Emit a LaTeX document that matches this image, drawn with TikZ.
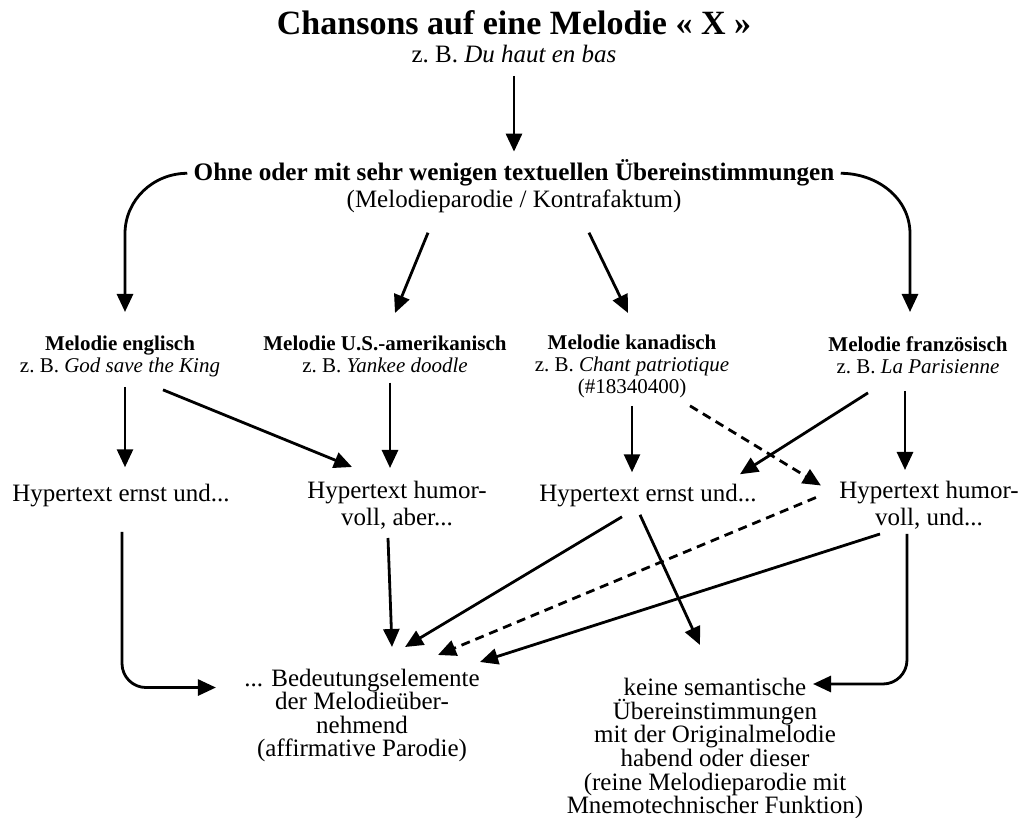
\documentclass[tikz,border=0pt]{standalone}
\usepackage{fontspec}
\setmainfont{Liberation Serif}
\usetikzlibrary{arrows.meta}
\begin{document}
\begin{tikzpicture}[x=0.5pt,y=0.5pt,
    every node/.style={inner sep=0pt,align=center},
    pfeil/.style={line width=1.4pt,-{Triangle[length=9pt,width=8pt]}},
    strich/.style={pfeil,dash pattern=on 4.5pt off 3pt},
    melodie/.style={anchor=north,font=\fontsize{10.5}{11}\selectfont},
    hyper/.style={font=\fontsize{12.5}{13.5}\selectfont},
    ergebnis/.style={anchor=north,font=\fontsize{12.5}{11.6}\selectfont}]
        \useasboundingbox (0,-818) rectangle (1024,0);
        \node (titel) [anchor=base,font=\fontsize{17}{18}\selectfont\bfseries] at (514,-35) {Chansons auf eine Melodie «~X~»};
        \node (bsp) [anchor=base,font=\fontsize{12.5}{14}\selectfont] at (514,-63) {z.~B. \textit{Du haut en bas}};
        \node (ohne) [anchor=base,font=\fontsize{12.6}{14}\selectfont\bfseries] at (514,-181) {Ohne oder mit sehr wenigen textuellen Übereinstimmungen};
        \node (parodie) [anchor=base,font=\fontsize{12.5}{14}\selectfont] at (514,-208) {(Melodieparodie / Kontrafaktum)};
        \node (englisch) [melodie] at (120,-336) {\textbf{Melodie englisch}\\z.~B. \textit{God save the King}};
        \node (amerik) [melodie] at (385,-336) {\textbf{Melodie U.S.-amerikanisch}\\z.~B. \textit{Yankee doodle}};
        \node (kanad) [melodie] at (632,-335) {\textbf{Melodie kanadisch}\\z.~B. \textit{Chant patriotique}\\(\#18340400)};
        \node (franz) [melodie] at (918,-336) {\textbf{Melodie französisch}\\z.~B. \textit{La Parisienne}};
        \node (ernstA) [hyper,anchor=base] at (121,-502) {Hypertext ernst und...};
        \node (humorA) [hyper,anchor=north] at (397,-481) {Hypertext humor-\\voll, aber...};
        \node (ernstB) [hyper,anchor=base] at (648,-502) {Hypertext ernst und...};
        \node (humorB) [hyper,anchor=north] at (929,-481) {Hypertext humor-\\voll, und...};
        \node (bedeutung) [ergebnis] at (362,-669) {... Bedeutungselemente\\der Melodieüber-\\nehmend\\(affirmative Parodie)};
        \node (keine) [ergebnis,font=\fontsize{12.5}{11.8}\selectfont] at (715,-678) {keine semantische\\Übereinstimmungen\\mit der Originalmelodie\\habend oder dieser\\(reine Melodieparodie mit\\Mnemotechnischer Funktion)};
        % obere Ebene
        \draw [pfeil] ([yshift=-6pt]bsp.south) -- ([yshift=4pt]ohne.north);
        \draw [pfeil] ([xshift=-3pt]ohne.west) to[out=180,in=90] ([xshift=2.5pt,yshift=-10pt]englisch.north |- parodie.south) -- ([xshift=2.5pt,yshift=12pt]englisch.north);
        \draw [pfeil] ([xshift=3pt]ohne.east) to[out=0,in=90] ([xshift=-4pt,yshift=-10pt]franz.north |- parodie.south) -- ([xshift=-4pt,yshift=12pt]franz.north);
        \draw [pfeil] ([xshift=-43pt,yshift=-9.5pt]parodie.south) -- ([xshift=5pt,yshift=11.5pt]amerik.north);
        \draw [pfeil] ([xshift=37.5pt,yshift=-9.5pt]parodie.south) -- ([xshift=-2pt,yshift=11pt]kanad.north);
        % Melodien -> Hypertexte
        \draw [pfeil] ([xshift=2.5pt,yshift=-4.5pt]englisch.south) -- ([xshift=2pt,yshift=8.5pt]ernstA.north);
        \draw [pfeil] ([xshift=21.5pt,yshift=-6pt]englisch.south) -- ([xshift=-22.5pt,yshift=7pt]humorA.north);
        \draw [pfeil] ([xshift=2.5pt,yshift=-4.5pt]amerik.south) -- ([xshift=-3.5pt,yshift=6.5pt]humorA.north);
        \draw [pfeil] ([yshift=-3.5pt]kanad.south) -- ([xshift=-8pt,yshift=6pt]ernstB.north);
        \draw [strich] ([xshift=29pt,yshift=-3.5pt]kanad.south) -- ([xshift=-9pt,yshift=10pt]humorB.west);
        \draw [pfeil] ([xshift=-25pt,yshift=-9.5pt]franz.south) -- ([xshift=46pt,yshift=5pt]ernstB.north);
        \draw [pfeil] ([xshift=-6.5pt,yshift=-8.5pt]franz.south) -- ([xshift=-12pt,yshift=5.5pt]humorB.north);
        % Hypertexte -> Funktion
        \draw [pfeil,rounded corners=12pt] ([xshift=0.5pt,yshift=-12pt]ernstA.south) |- ([xshift=-14pt,yshift=14pt]bedeutung.west);
        \draw [pfeil] ([xshift=-4.5pt,yshift=-4pt]humorA.south) -- ([xshift=15pt,yshift=11pt]bedeutung.north);
        \draw [pfeil] ([xshift=-13pt,yshift=-4.5pt]ernstB.south) -- ([xshift=21.5pt,yshift=11pt]bedeutung.north);
        \draw [pfeil] ([xshift=-4pt,yshift=-3.5pt]ernstB.south) -- ([xshift=-7.5pt,yshift=16.5pt]keine.north);
        \draw [strich] ([xshift=-11.5pt,yshift=4pt]humorB.west) -- ([xshift=38pt,yshift=7pt]bedeutung.north);
        \draw [pfeil] ([xshift=-24.5pt,yshift=-2pt]humorB.south) -- ([xshift=59pt,yshift=3.5pt]bedeutung.north);
        \draw [pfeil,rounded corners=12pt] ([xshift=-11pt,yshift=-2pt]humorB.south) |- ([xshift=49pt,yshift=-3pt]keine.north);
\end{tikzpicture}
\end{document}
